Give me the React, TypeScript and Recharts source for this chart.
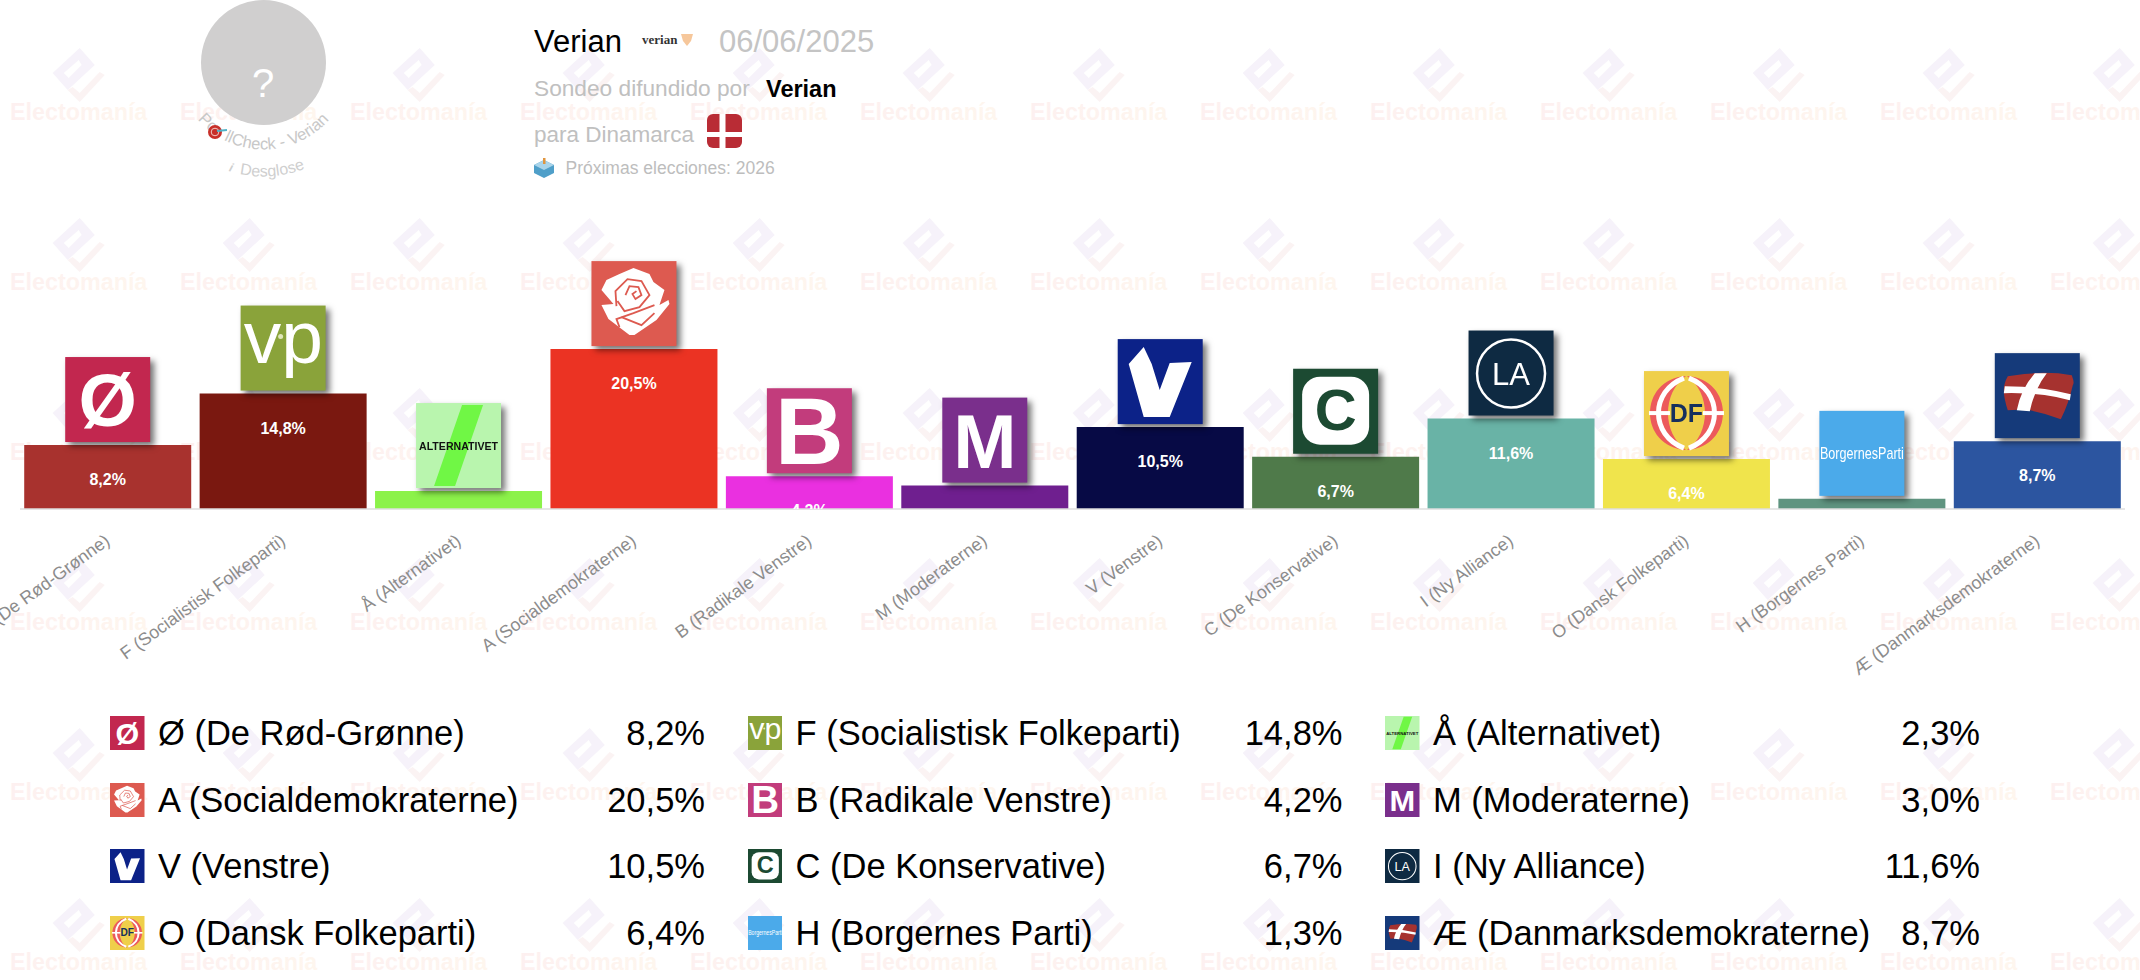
import React from 'react';
import { BarChart, Bar, XAxis, YAxis, LabelList, Cell } from 'recharts';

const FONT = '"Liberation Sans", Arial, sans-serif';

const partyKeys = ['OE', 'F', 'AA', 'A', 'B', 'M', 'V', 'C', 'I', 'O', 'H', 'AE'];
const partyNames = [
  'Ø (De Rød-Grønne)',
  'F (Socialistisk Folkeparti)',
  'Å (Alternativet)',
  'A (Socialdemokraterne)',
  'B (Radikale Venstre)',
  'M (Moderaterne)',
  'V (Venstre)',
  'C (De Konservative)',
  'I (Ny Alliance)',
  'O (Dansk Folkeparti)',
  'H (Borgernes Parti)',
  'Æ (Danmarksdemokraterne)',
];
const percents = [8.2, 14.8, 2.3, 20.5, 4.2, 3.0, 10.5, 6.7, 11.6, 6.4, 1.3, 8.7];
const barColors = [
  '#a8322e', '#7a1810', '#8cf24a', '#eb3323', '#ea30e0', '#6f1f8f',
  '#070a45', '#4f7a4a', '#69b3a6', '#f0e44c', '#5f9480', '#2c55a0',
];
const tileColors = [
  '#c2274f', '#8aa33a', '#b9f5ae', '#dd5a50', '#c23c7c', '#7a2f8c',
  '#0c2288', '#1c4a32', '#0e2a42', '#efcf4a', '#4baaea', '#153a7a',
];

const chartData = partyNames.map((name, i) => ({ name, value: percents[i] }));
const fmt = (v: number) => v.toFixed(1).replace('.', ',') + '%';

// party logos, drawn on an 85x85 tile
const TileArt = ({ k }: { k: string }) => {
  const white = { fill: '#fff', fontFamily: FONT, textAnchor: 'middle' as const };
  switch (k) {
    case 'OE':
      return <text x={42.5} y={69} fontSize={75} fontWeight="bold" {...white}>Ø</text>;
    case 'F':
      return (
        <g>
          <text x={3} y={57} fontSize={75} fill="#fff" fontFamily={FONT}>vp</text>
          <circle cx={40} cy={31} r={2.5} fill="#dfe6b8" />
        </g>
      );
    case 'AA':
      return (
        <g>
          <polygon points="46,2 67,2 39,83 18,83" fill="#70f745" />
          <text x={42.5} y={47} fontSize={10.5} fontWeight="bold" fontFamily={FONT} fill="#111" textAnchor="middle" textLength={79} lengthAdjust="spacingAndGlyphs">ALTERNATIVET</text>
        </g>
      );
    case 'A':
      return (
        <g>
          <polygon points="28,13 42,7 58,13 62,21 73,29 68,44 77,39 78,43 65,59 43,74 38,74 17,58 10,44 22,43 10,29 15,19" fill="#fff" />
          <g fill="none" stroke="#dd5a50" strokeWidth={1.8}>
            <polyline points="25,45 24,30 36,18 50,20 58,34 48,46 33,50 26,40" />
            <polyline points="34,34 38,25 47,26 50,34 44,38 41,33 45,30" />
            <polyline points="28,66 25,58 42,52 63,44" />
            <polyline points="30,56 50,64 63,52" />
          </g>
        </g>
      );
    case 'B':
      return <text x={42.5} y={76} fontSize={95} fontWeight="bold" {...white}>B</text>;
    case 'M':
      return <text x={42.5} y={70} fontSize={76} fontWeight="bold" {...white}>M</text>;
    case 'V':
      return <polygon points="26,8 34,25 42,51 52,24 74,23 52,78 26,78 11,25" fill="#fff" />;
    case 'C':
      return (
        <g>
          <rect x={9} y={8} width={67} height={68} rx={18} fill="#fff" />
          <text x={42.5} y={61} fontSize={58} fontWeight="bold" fontFamily={FONT} fill="#1c4a32" textAnchor="middle">C</text>
        </g>
      );
    case 'I':
      return (
        <g>
          <ellipse cx={42.5} cy={43} rx={34} ry={34} fill="none" stroke="#fff" strokeWidth={2.5} />
          <text x={42.5} y={54} fontSize={31} {...white}>LA</text>
        </g>
      );
    case 'O':
      return (
        <g>
          <path d="M42 5C-6 8 -6 76 42 79C18 62 18 22 42 5Z" fill="#ec5a5c" />
          <path d="M43 5C91 8 91 76 43 79C67 62 67 22 43 5Z" fill="#ec5a5c" />
          <path d="M40 7C6 20 6 64 40 77" fill="none" stroke="#fff" strokeWidth={5} />
          <path d="M45 7C79 20 79 64 45 77" fill="none" stroke="#fff" strokeWidth={5} />
          <rect x={5} y={40} width={21} height={4} fill="#fff" />
          <rect x={59} y={40} width={21} height={4} fill="#fff" />
          <text x={42.5} y={51} fontSize={25} fontWeight="bold" fontFamily={FONT} fill="#16305e" textAnchor="middle">DF</text>
        </g>
      );
    case 'H':
      return <text x={42.5} y={48} fontSize={17} textLength={84} lengthAdjust="spacingAndGlyphs" {...white}>BorgernesParti</text>;
    case 'AE':
      return (
        <g>
          <path d="M13 23Q48 17 77 22Q80 30 78 32Q74 50 66 66Q50 60 35 57Q22 56 13 57Q9 45 9 37Q9 30 13 23Z" fill="#a6322f" />
          <path d="M10 33Q44 33 76 41L75 47Q44 39 9 40Z" fill="#fff" />
          <path d="M40 20L52 20Q40 35 35 58L22 57Q26 36 40 20Z" fill="#fff" />
        </g>
      );
    default:
      return null;
  }
};

// logo tile + value label on top of each bar
const BarTop = (props: any) => {
  const { viewBox, index, value } = props;
  const { x, y, width, height } = viewBox;
  const cx = x + width / 2;
  const clipId = `bar-clip-${index}`;
  return (
    <g>
      <clipPath id={clipId}>
        <rect x={x} y={y} width={width} height={height} />
      </clipPath>
      <text
        x={cx}
        y={y + 40}
        fill="#fff"
        fontSize={16}
        fontWeight="bold"
        fontFamily={FONT}
        textAnchor="middle"
        clipPath={`url(#${clipId})`}
      >
        {fmt(Number(value))}
      </text>
      <g
        transform={`translate(${cx - 42.5},${y - 88})`}
        style={{ filter: 'drop-shadow(4px 4px 3px rgba(0,0,0,0.55))' }}
      >
        <rect width={85} height={85} fill={tileColors[index]} />
        <TileArt k={partyKeys[index]} />
      </g>
    </g>
  );
};

// watermark of the site behind everything
const Watermark = () => {
  const cols = Array.from({ length: 13 }, (_, i) => 78.7 + i * 170);
  const rows = Array.from({ length: 6 }, (_, i) => 75 + i * 170);
  return (
    <g>
      <defs>
        <linearGradient id="wm-text" x1="0" x2="1" y1="0" y2="0">
          <stop offset="0" stopColor="#fdf0f0" />
          <stop offset="1" stopColor="#fef6ee" />
        </linearGradient>
      </defs>
      {rows.map((ry) =>
        cols.map((cx) => (
          <g key={`${cx}-${ry}`} transform={`translate(${cx},${ry})`}>
            <path d="M1 -27L16 -10L-11 15L-26 -2ZM-15 -2L-10 3L3 -10L0 -15Z" fill="#f6f2fa" fillRule="evenodd" />
            <polygon points="21,-3 26,0 1,27 -11,15 -6,12 1,18" fill="#fbf3f3" />
            <text x={0} y={45} fontSize={23.3} fontWeight="bold" fontFamily={FONT} fill="url(#wm-text)" textAnchor="middle">
              Electomanía
            </text>
          </g>
        )),
      )}
    </g>
  );
};

const Header = () => (
  <g fontFamily={FONT}>
    <circle cx={263.5} cy={62.5} r={62.5} fill="#d0cfcf" />
    <text x={263} y={97} fontSize={40} fill="#fff" textAnchor="middle">?</text>
    <defs>
      <path id="arc-poll" d="M176.5 62.5A87 87 0 0 0 350.5 62.5" />
      <path id="arc-desglose" d="M149.5 62.5A114 114 0 0 0 377.5 62.5" />
    </defs>
    <text fontSize={16.5} fill="#c8c8c8" textAnchor="middle">
      <textPath href="#arc-poll" startOffset="50%">
        <tspan>Po</tspan>
        <tspan dx={13}>llCheck - Verian</tspan>
      </textPath>
    </text>
    <text fontSize={16} fill="#cfcfcf" textAnchor="middle">
      <textPath href="#arc-desglose" startOffset="51%">
        <tspan fontStyle="italic" fontWeight="bold" fontSize={12}>i</tspan>
        <tspan dx={8}>Desglose</tspan>
      </textPath>
    </text>
    {/* dart */}
    <circle cx={215} cy={132} r={7} fill="#c8302a" />
    <circle cx={215} cy={132} r={3.8} fill="none" stroke="#f3c9c5" strokeWidth={1} />
    <line x1={217} y1={131} x2={227} y2={130} stroke="#4fb3c8" strokeWidth={2} />

    <text x={534} y={52} fontSize={31} fill="#000">Verian</text>
    <text x={642} y={44} fontSize={13} fontWeight="bold" fontFamily='"Liberation Serif", serif' fill="#333">verian</text>
    <path d="M681 34L693 34L691 41L687 46L683 41Z" fill="#f6c79b" />
    <text x={719} y={52} fontSize={31} fill="#c4c4c4">06/06/2025</text>

    <text x={534} y={96} fontSize={22.7} fill="#c0c0c0">Sondeo difundido por</text>
    <text x={766} y={97} fontSize={23.5} fontWeight="bold" fill="#000">Verian</text>
    <text x={534} y={142} fontSize={22.5} fill="#c0c0c0">para Dinamarca</text>
    <rect x={707} y={114} width={35} height={34} rx={6} fill="#b92c35" />
    <rect x={707} y={132} width={35} height={5} fill="#fff" />
    <rect x={719.5} y={114} width={6} height={34} fill="#fff" />

    <path d="M544 160L554 165L554 173L544 178L534 173L534 165Z" fill="#4f9fc9" />
    <path d="M534 165L544 170L554 165L544 160Z" fill="#a9d4ea" />
    <rect x={543} y={158} width={2.5} height={6} fill="#e0953f" />
    <text x={565.5} y={174} fontSize={17.5} fill="#bdbdbd">Próximas elecciones: 2026</text>
  </g>
);

const LegendTable = () => (
  <>
    {partyNames.map((name, i) => {
      const col = i % 3;
      const row = Math.floor(i / 3);
      const left = 110 + col * 637.5;
      const top = 716 + row * 66.5;
      return (
        <React.Fragment key={name}>
          <svg
            width={34.5}
            height={34}
            viewBox="0 0 85 85"
            preserveAspectRatio="none"
            style={{ position: 'absolute', left, top }}
          >
            <rect width={85} height={85} fill={tileColors[i]} />
            <TileArt k={partyKeys[i]} />
          </svg>
          <div style={{ position: 'absolute', left: left + 48, top: top - 1, fontSize: 34.5, lineHeight: '36px', whiteSpace: 'nowrap', color: '#000' }}>
            {name}
          </div>
          <div style={{ position: 'absolute', left: left + 400, width: 195, textAlign: 'right', top: top - 1, fontSize: 34.5, lineHeight: '36px', color: '#000' }}>
            {fmt(percents[i])}
          </div>
        </React.Fragment>
      );
    })}
  </>
);

export default function App() {
  return (
    <div style={{ position: 'absolute', left: 0, top: 0, width: 2140, height: 980, overflow: 'hidden', background: '#fff', fontFamily: FONT }}>
      <svg width={2140} height={980} style={{ position: 'absolute', left: 0, top: 0 }}>
        <Watermark />
        <Header />
      </svg>
      <div style={{ position: 'absolute', left: 0, top: 0 }}>
        <BarChart
          width={2140}
          height={680}
          data={chartData}
          margin={{ top: 275, right: 15, bottom: 0, left: 20 }}
          barCategoryGap="2.4%"
        >
          <XAxis
            dataKey="name"
            interval={0}
            height={171}
            angle={-36}
            textAnchor="end"
            tickLine={false}
            tickMargin={18}
            axisLine={{ stroke: '#dedede', strokeWidth: 1.5 }}
            tick={{ fill: '#8c8c8c', fontSize: 17.8, fontFamily: FONT, dx: -4 }}
          />
          <YAxis hide domain={[0, 30]} />
          <Bar dataKey="value" isAnimationActive={false}>
            {chartData.map((d, i) => (
              <Cell key={d.name} fill={barColors[i]} />
            ))}
            <LabelList dataKey="value" content={BarTop} />
          </Bar>
        </BarChart>
      </div>
      <LegendTable />
    </div>
  );
}
